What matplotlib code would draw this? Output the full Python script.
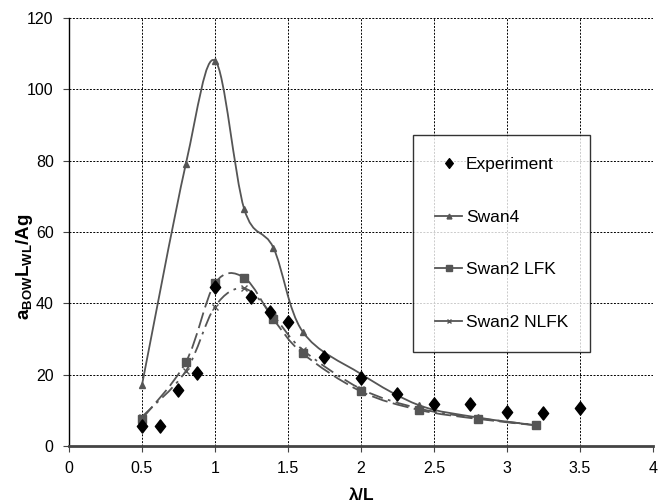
import matplotlib
matplotlib.use("Agg")
import matplotlib.pyplot as plt
import numpy as np
from matplotlib.path import Path
from matplotlib.patches import PathPatch
from matplotlib.lines import Line2D

plt.rcParams["font.family"] = ["Liberation Sans Narrow", "Liberation Sans", "DejaVu Sans"]
plt.rcParams["mathtext.fontset"] = "custom"
plt.rcParams["mathtext.bf"] = "Liberation Sans:bold"
plt.rcParams["mathtext.rm"] = "Liberation Sans"

exp_x = [0.5, 0.625, 0.75, 0.875, 1.0, 1.25, 1.375, 1.5, 1.75, 2.0, 2.25, 2.5, 2.75, 3.0, 3.25, 3.5]
exp_y = [5.6, 5.6, 15.7, 20.6, 44.5, 41.7, 37.7, 34.7, 25.0, 19.2, 14.6, 11.8, 11.8, 9.6, 9.2, 10.6]

swan_x = [0.5, 0.8, 1.0, 1.2, 1.4, 1.6, 2.0, 2.4, 2.8, 3.2]
swan4_y = [17.1, 79.0, 108.1, 66.5, 55.6, 32.1, 20.2, 11.4, 8.0, 5.8]
lfk_y = [7.6, 23.5, 45.6, 47.2, 35.6, 26.0, 15.3, 10.1, 7.6, 5.8]
nlfk_y = [8.2, 21.0, 39.1, 44.2, 36.5, 27.0, 16.0, 10.5, 7.8, 5.9]

LINE = "#555555"
DIAMOND = Path([(0, 1), (0.78, 0), (0, -1), (-0.78, 0), (0, 1)],
               [Path.MOVETO, Path.LINETO, Path.LINETO, Path.LINETO, Path.CLOSEPOLY])


def smooth_path(xs, ys):
    # Excel-style smoothed line: Catmull-Rom segments as cubic Beziers
    p = np.column_stack([xs, ys]).astype(float)
    verts = [p[0]]
    codes = [Path.MOVETO]
    n = len(p)
    for i in range(n - 1):
        p0 = p[i - 1] if i > 0 else p[i]
        p3 = p[i + 2] if i + 2 < n else p[i + 1]
        c1 = p[i] + (p[i + 1] - p0) / 6.0
        c2 = p[i + 1] - (p3 - p[i]) / 6.0
        verts += [c1, c2, p[i + 1]]
        codes += [Path.CURVE4] * 3
    return Path(verts, codes)


fig = plt.figure(figsize=(6.67, 5.03), dpi=100)
ax = fig.add_axes([0.1034, 0.1133, 0.8756, 0.8507])

series = [
    ("Swan4", swan4_y, "-", "^", 5),
    ("Swan2 LFK", lfk_y, (0, (9, 3)), "s", 6.3),
    ("Swan2 NLFK", nlfk_y, (0, (8, 3, 1.5, 3)), "x", 4),
]

handles = [Line2D([], [], ls="none", marker=DIAMOND, color="black", ms=7, label="Experiment")]
for label, ys, ls, mk, ms in series:
    ax.add_patch(PathPatch(smooth_path(swan_x, ys), fill=False, ec=LINE, lw=1.3, ls=ls, zorder=3))
    ax.plot(swan_x, ys, ls="none", marker=mk, color=LINE, ms=ms, mew=1.0, zorder=4)
    handles.append(Line2D([], [], ls="-", lw=1.3, marker=mk, color=LINE, ms=ms - 1.5, label=label))

ax.plot(exp_x, exp_y, ls="none", marker=DIAMOND, color="black", ms=9.5, zorder=5)

ax.set_xlim(0, 4)
ax.set_ylim(0, 120)
ax.set_xticks(np.arange(0, 4.01, 0.5))
ax.set_xticklabels(["0", "0.5", "1", "1.5", "2", "2.5", "3", "3.5", "4"])
ax.set_yticks(np.arange(0, 121, 20))
ax.grid(True, color="black", ls=(0, (2, 1.5)), lw=0.7)
ax.set_axisbelow(True)
for side in ("top", "right"):
    ax.spines[side].set_visible(False)
ax.spines["left"].set_color("black")
ax.spines["left"].set_linewidth(1.0)
ax.spines["bottom"].set_color("#444444")
ax.spines["bottom"].set_linewidth(2.0)
ax.tick_params(axis="both", labelsize=11.5, length=4, width=0.8, color="#444444", pad=7)

ax.set_xlabel(r"$\mathbf{\lambda/L}$", fontsize=12.5, labelpad=7)
ax.set_ylabel(r"$\mathbf{a_{BOW}L_{WL}/Ag}$", fontsize=13.5)
ax.yaxis.set_label_coords(-0.058, 0.418)

leg = ax.legend(handles=handles, loc="upper left", bbox_to_anchor=(0.589, 0.727),
                borderaxespad=0, fontsize=12.5, frameon=True, fancybox=False,
                edgecolor="black", handlelength=1.6, handletextpad=0.2,
                labelspacing=2.17, borderpad=1.25)
leg.get_frame().set_linewidth(1.0)

fig.savefig("out.png", dpi=100)
